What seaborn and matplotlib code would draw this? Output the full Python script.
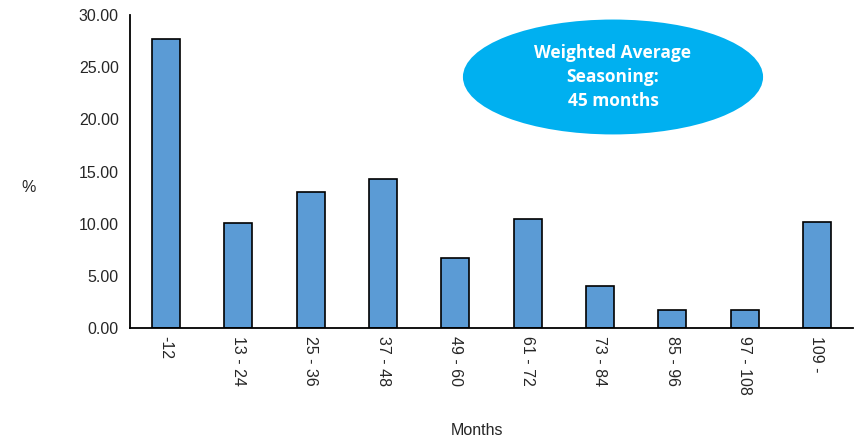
import matplotlib
matplotlib.use("Agg")
import matplotlib.pyplot as plt
from matplotlib.patches import Ellipse
import seaborn as sns
import pandas as pd

# seasoning buckets (months) and share of pool (%)
buckets = ['-12', '13 - 24', '25 - 36', '37 - 48', '49 - 60', '61 - 72',
           '73 - 84', '85 - 96', '97 - 108', '109 -']
shares = [27.7, 10.05, 13.0, 14.3, 6.7, 10.45, 4.0, 1.75, 1.75, 10.15]
y_ticks = [0, 5, 10, 15, 20, 25, 30]
bubble_text = 'Weighted Average\nSeasoning:\n45 months'

sns.set_theme(style='white')
plt.rcParams['font.family'] = ['Liberation Sans', 'DejaVu Sans']

df = pd.DataFrame({'bucket': buckets, 'share': shares})

fig = plt.figure(figsize=(8.6, 4.41), dpi=100)
ax = fig.add_axes([0.151, 0.256, 0.841, 0.710])

sns.barplot(data=df, x='bucket', y='share', color='#5B9BD5', width=0.39,
            edgecolor='black', linewidth=1.2, saturation=1, ax=ax)

ax.set_xlim(-0.5, 9.5)
ax.set_ylim(0, 30)
ax.set_yticks(y_ticks)
ax.set_yticklabels([f'{v:.2f}' for v in y_ticks], fontsize=11.5)
ax.tick_params(axis='x', labelrotation=270, labelsize=11.5, pad=6)
ax.tick_params(axis='y', pad=8)
ax.tick_params(length=0)

for side in ['top', 'right']:
    ax.spines[side].set_visible(False)
for side in ['left', 'bottom']:
    ax.spines[side].set_color('black')
    ax.spines[side].set_linewidth(1.3)

ax.set_xlabel('Months', fontsize=11.5)
ax.set_ylabel('%', fontsize=11.5, rotation=0)
ax.yaxis.set_label_coords(-0.14, 0.45)
ax.yaxis.label.set_va('center')
ax.xaxis.set_label_coords(0.48, -0.326)
ax.xaxis.label.set_va('center')

bubble = Ellipse((0.668, 0.802), 0.415, 0.367, transform=ax.transAxes,
                 facecolor='#00B0F0', edgecolor='none', clip_on=False)
ax.add_patch(bubble)
ax.text(0.668, 0.802, bubble_text, transform=ax.transAxes, ha='center',
        va='center', color='white', fontsize=12.5, fontweight='bold',
        family=['Open Sans', 'DejaVu Sans'], linespacing=1.4)

fig.savefig('out.png', dpi=100)
